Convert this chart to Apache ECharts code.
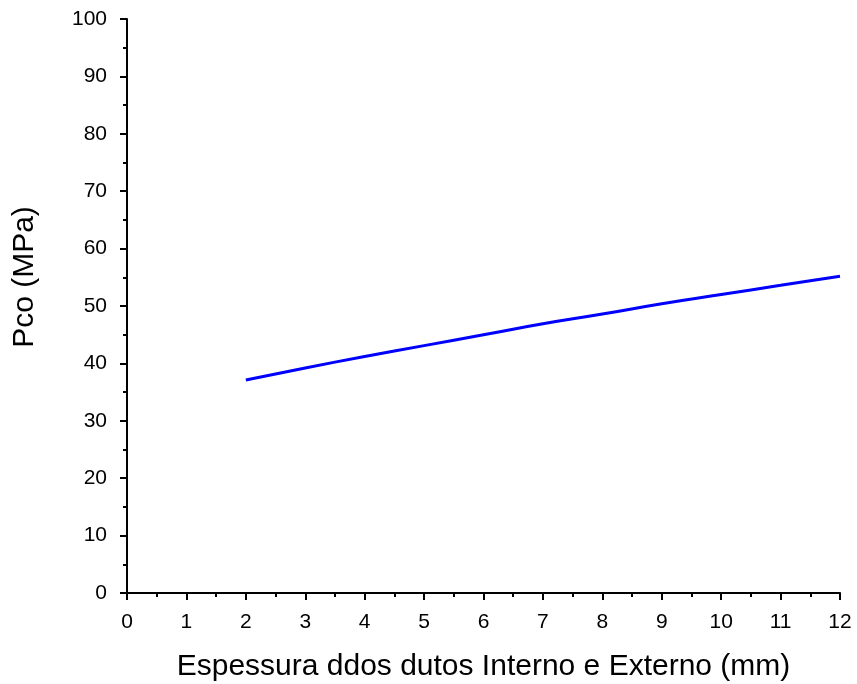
<!DOCTYPE html>
<html><head><meta charset="utf-8">
<script src="https://cdn.jsdelivr.net/npm/echarts@6/dist/echarts.min.js"></script>
<style>html,body{margin:0;padding:0;background:#fff}#c{width:857px;height:684px}</style>
</head><body><div id="c"></div>
<script>
const thickness = [2, 3, 4, 5, 6, 7, 8, 9, 10, 11, 12];
const pco = [37.1, 39.2, 41.2, 43.1, 45.0, 46.9, 48.6, 50.4, 52.0, 53.6, 55.2];
const xTitle = 'Espessura ddos dutos Interno e Externo (mm)';
const yTitle = 'Pco (MPa)';

const chart = echarts.init(document.getElementById('c'));
const font = 'Liberation Sans, Arial, sans-serif';
const axisCommon = {
  axisLine: {show: true, onZero: false, lineStyle: {color: '#000', width: 2}},
  axisTick: {show: true, inside: false, length: 7, lineStyle: {color: '#000', width: 2}},
  minorTick: {show: true, splitNumber: 2, length: 4, lineStyle: {color: '#000', width: 2}},
  splitLine: {show: false},
  axisLabel: {color: '#000', fontFamily: font, fontSize: 21}
};
chart.setOption({
  animation: false,
  grid: {left: 127, right: 17, top: 19, bottom: 91, containLabel: false, outerBoundsMode: 'none'},
  xAxis: Object.assign({}, axisCommon, {
    type: 'value', min: 0, max: 12, interval: 1,
    name: xTitle, nameLocation: 'middle', nameGap: 59,
    nameTextStyle: {color: '#000', fontFamily: font, fontSize: 30},
    axisLabel: Object.assign({}, axisCommon.axisLabel, {margin: 19})
  }),
  yAxis: Object.assign({}, axisCommon, {
    type: 'value', min: 0, max: 100, interval: 10,
    name: yTitle, nameLocation: 'middle', nameGap: 87,
    nameTextStyle: {color: '#000', fontFamily: font, fontSize: 30, padding: [0, 0, 0, 58]},
    axisLabel: Object.assign({}, axisCommon.axisLabel, {margin: 20})
  }),
  series: [{
    type: 'line', data: thickness.map((x, i) => [x, pco[i]]),
    showSymbol: false, smooth: true,
    lineStyle: {color: '#0000ff', width: 3}
  }]
});
</script></body></html>
